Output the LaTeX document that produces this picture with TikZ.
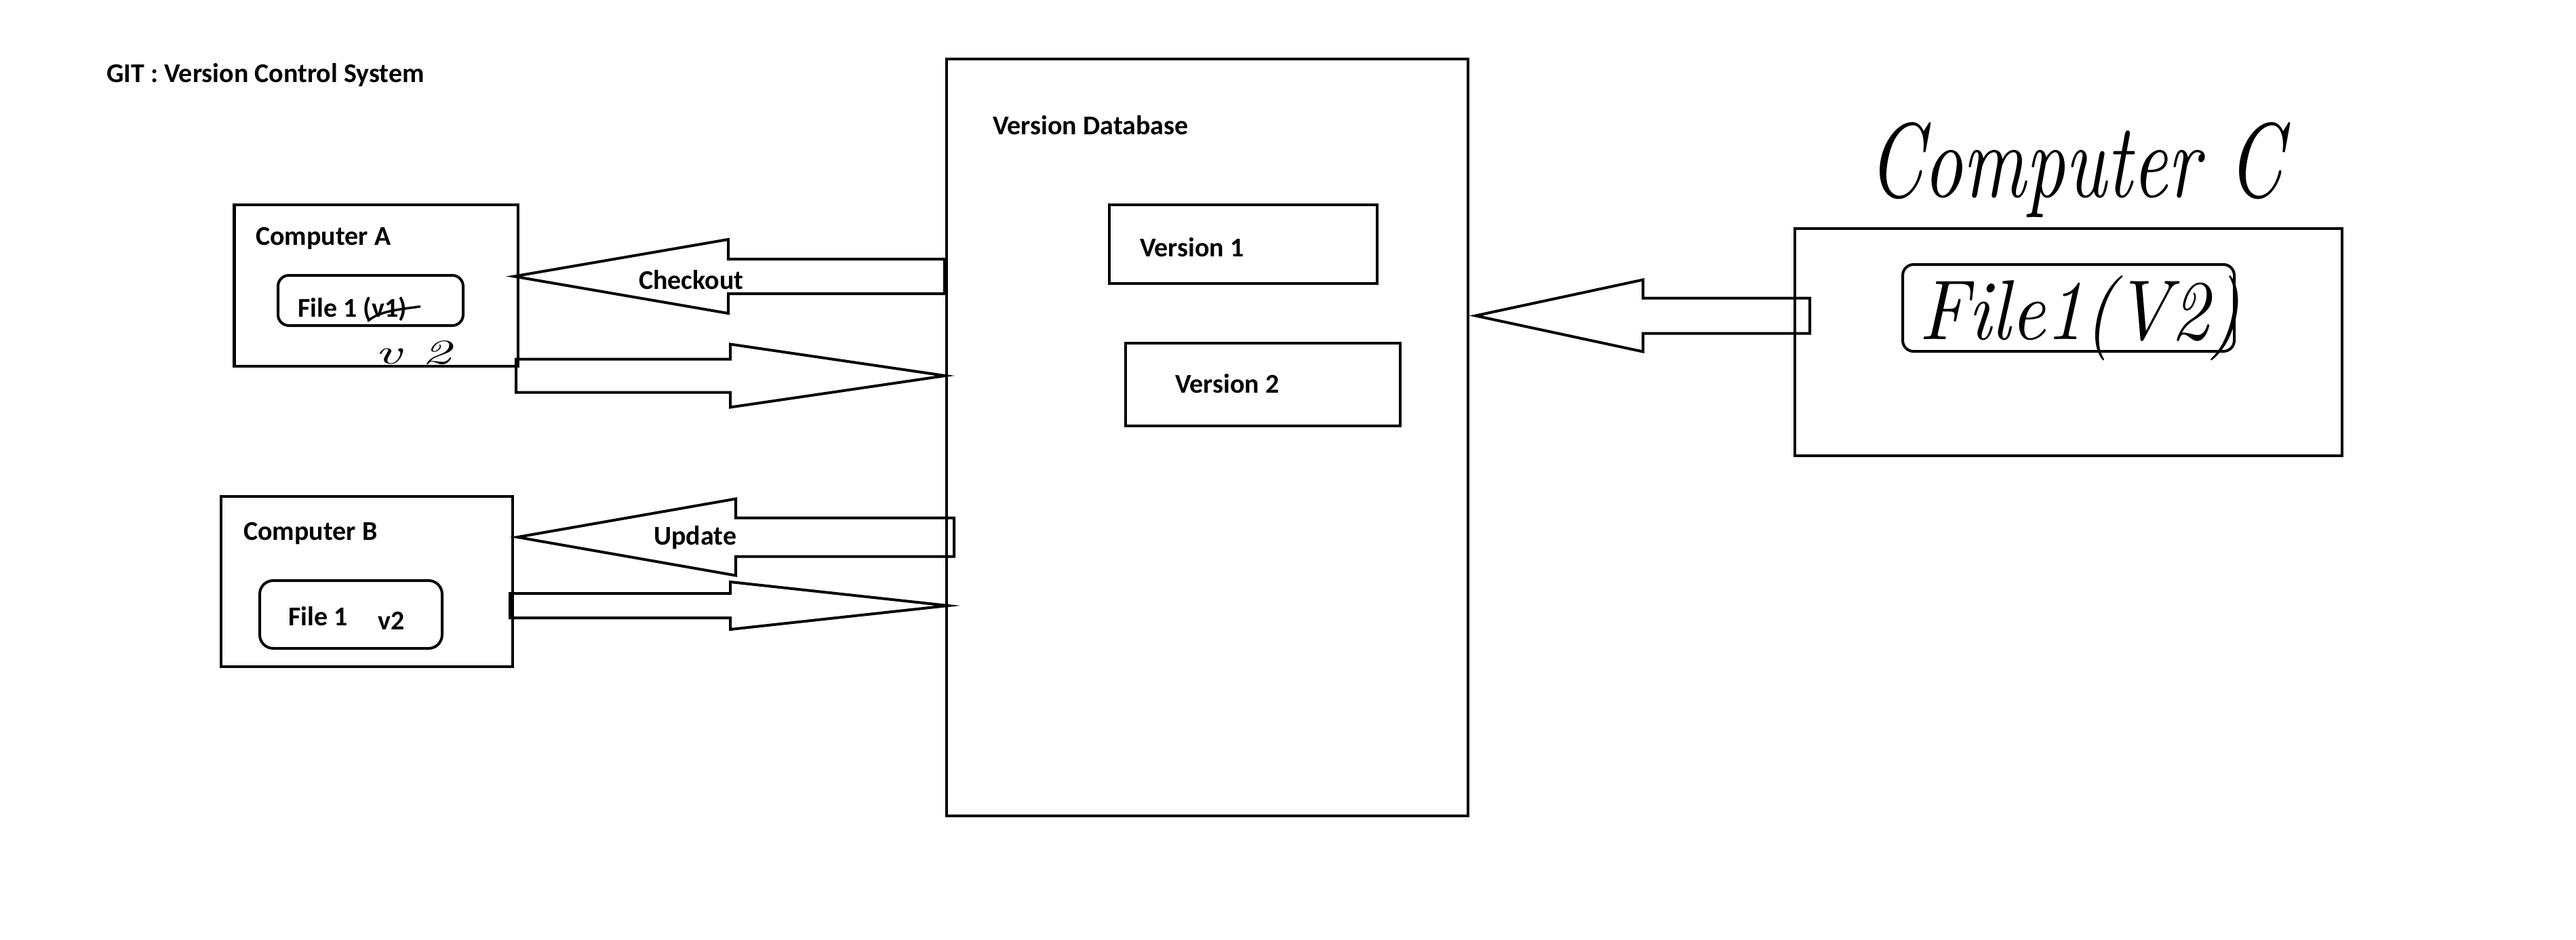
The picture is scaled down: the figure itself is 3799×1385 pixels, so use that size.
\documentclass[tikz,border=0pt]{standalone}
\usepackage{fontspec}
\usepackage{graphicx}
\newfontfamily\calibri{Carlito}
\usetikzlibrary{calc}
% #1 tail, #2 tip, #3 shaft half width, #4 head half width, #5 signed head length (positive: points left)
\newcommand\blockarrow[5]{%
  \draw[barrow] let \p1=(#1), \p2=(#2) in
    (\x1,{\y2+#3pt}) -- ({\x2+(#5pt)},{\y2+#3pt}) -- ({\x2+(#5pt)},{\y2+#4pt}) -- (\x2,\y2)
    -- ({\x2+(#5pt)},{\y2-#4pt}) -- ({\x2+(#5pt)},{\y2-#3pt}) -- (\x1,{\y2-#3pt}) -- cycle;}
\begin{document}
\begin{tikzpicture}[x=1pt,y=-1pt,
  box/.style={draw, line width=4.5pt, inner sep=0pt, outer sep=0pt},
  filebox/.style={draw, line width=4pt, rounded corners=16pt, inner sep=0pt, outer sep=0pt},
  lbl/.style={inner sep=0pt, anchor=base west, font=\fontsize{40}{48}\selectfont\calibri\bfseries},
  barrow/.style={draw, line width=4pt, line join=miter},
  handtxt/.style={inner sep=0pt, anchor=base west, font=\itshape},
  hand/.style={line width=3.5pt, line cap=round, line join=round}]
\fill[white] (0,0) rectangle (3799,1385);
\useasboundingbox (0,0) rectangle (3799,1385);

% boxes
\node[box, minimum width=418.5pt, minimum height=238pt] (A) at (554.75,421) {};
\node[filebox, minimum width=273pt, minimum height=74pt] (fA) at (546.5,443) {};
\node[box, minimum width=430pt, minimum height=251pt] (B) at (541,857.5) {};
\node[filebox, minimum width=269pt, minimum height=100pt, rounded corners=20pt] (fB) at (517.5,906) {};
\node[box, minimum width=769pt, minimum height=1116pt] (DB) at (1780.5,645) {};
\node[box, minimum width=395pt, minimum height=116pt] (V1) at (1833.5,360) {};
\node[box, minimum width=405pt, minimum height=122pt] (V2) at (1862.5,567) {};
\node[box, line width=4pt, minimum width=807pt, minimum height=335pt] (C) at (3050.5,504.5) {};
\node[filebox, minimum width=489pt, minimum height=128pt] (fC) at (3050.5,454) {};

% typed labels
\node[lbl] (title) at (157,121) {GIT : Version Control System};
\node[lbl] (tA) at (377,361) {Computer A};
\node[lbl] (tfA) at (439,467) {File 1 (v1)};
\node[lbl] (tB) at (359,796) {Computer B};
\node[lbl] (tfB) at (425,922) {File 1};
\node[lbl] (tfBv) at (557,928) {v2};
\node[lbl] (tck) at (942,426) {Checkout};
\node[lbl] (tup) at (964,803) {Update};
\node[lbl] (tdb) at (1464,198) {Version Database};
\node[lbl] (tv1) at (1681,378) {Version 1};
\node[lbl] (tv2) at (1733,579) {Version 2};

% handwritten parts
\draw[hand] (543,473) .. controls (560,458) and (592,456) .. (619,452);
\node[handtxt] (hv2) at (553,536) {\resizebox{112pt}{34pt}{v 2}};
\node[handtxt] (hC) at (2755,290) {\resizebox{611pt}{110pt}{Computer C}};
\node[handtxt] (hfC) at (2830,500) {\resizebox{473pt}{94pt}{File1(V2)}};

% block arrows
\blockarrow{$(DB.west |- 0,407.5)+(-3,0)$}{$(A.east |- 0,407.5)+(-6,0)$}{25.5}{54.5}{316}
\blockarrow{$(A.east |- 0,554)+(-3,0)$}{$(DB.west |- 0,554)+(-2,0)$}{24.5}{46.5}{-317}
\blockarrow{$(DB.west |- 0,792)+(11,0)$}{$(B.east |- 0,792)+(7,0)$}{28.5}{56.5}{322}
\blockarrow{$(B.east |- 0,893)+(-4,0)$}{$(DB.west |- 0,893)+(2,0)$}{18}{35}{-321}
\blockarrow{$(C.west |- 0,465.5)+(22,0)$}{$(DB.east |- 0,465.5)+(11,0)$}{26}{53}{247}
\end{tikzpicture}
\end{document}
